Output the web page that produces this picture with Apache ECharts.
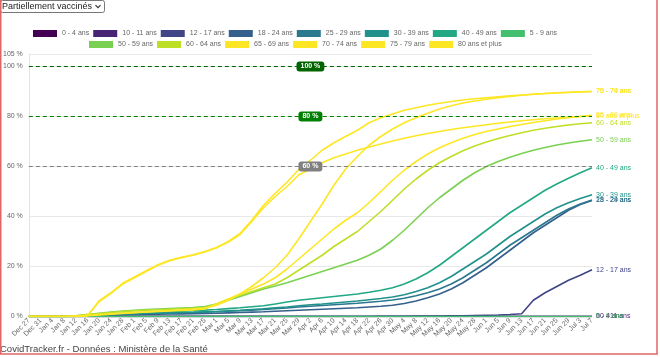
<!DOCTYPE html>
<html>
<head>
<meta charset="utf-8">
<script src="https://cdn.jsdelivr.net/npm/echarts@6/dist/echarts.min.js"></script>
<style>
html,body{margin:0;padding:0;background:#fff;}
#chart{width:660px;height:357px;}
</style>
</head>
<body>
<div id="chart"></div>
<script>
const dates = ['Dec 27','Dec 31','Jan 4','Jan 8','Jan 12','Jan 16','Jan 20','Jan 24','Jan 28','Feb 1','Feb 5','Feb 9','Feb 13','Feb 17','Feb 21','Feb 25','Mar 1','Mar 5','Mar 9','Mar 13','Mar 17','Mar 21','Mar 25','Mar 29','Apr 2','Apr 6','Apr 10','Apr 14','Apr 18','Apr 22','Apr 26','Apr 30','May 4','May 8','May 12','May 16','May 20','May 24','May 28','Jun 1','Jun 5','Jun 9','Jun 13','Jun 17','Jun 21','Jun 25','Jun 29','Jul 3','Jul 7'];

const a0004 = [0,0,0,0,0,0,0,0,0,0, 0,0,0,0,0,0,0,0,0,0, 0,0,0,0,0,0,0,0,0,0, 0,0,0,0,0,0,0,0,0,0, 0,0,0,0,0,0,0,0,0];
const a1011 = [0,0,0,0,0,0,0,0,0,0, 0,0,0,0,0,0,0,0,0,0, 0,0,0,0,0,0,0,0,0,0, 0,0,0,0,0,0,0,0,0,0, 0,0,0,0,0,0,0,0,0];
const a1217 = [0,0,0,0,0,0,0,0,0,0, 0,0,0,0,0,0,0,0,0,0, 0,0,0,0,0,0,0,0,0,0, 0.1,0.1,0.1,0.2,0.2,0.2,0.3,0.3,0.4,0.5, 0.6,0.8,1.1,6.5,9.5,12,14.5,16.5,18.7];
const a1824 = [0,0,0,0,0.05,0.2,0.3,0.45,0.6,0.7, 0.8,0.9,1.0,1.05,1.1,1.2,1.3,1.45,1.6,1.75, 1.9,2.1,2.3,2.5,2.7,2.9,3.1,3.3,3.5,3.8, 4.1,4.5,5.2,6.2,7.5,9,11,13.5,16.5,19.5, 23,26.5,30,33.5,36.5,39.5,42.5,44.8,46.4];
const a2529 = [0,0,0,0,0.1,0.3,0.5,0.7,0.9,1.05, 1.2,1.3,1.4,1.5,1.6,1.75,1.9,2.1,2.3,2.55, 2.8,3.1,3.4,3.8,4.1,4.4,4.7,5.0,5.3,5.7, 6.1,6.6,7.3,8.3,9.5,11,13,15.5,18.5,21.5, 25,28.5,31.5,34.5,37.5,40.5,43,45,46.6];
const a3039 = [0,0,0,0,0.1,0.35,0.6,0.8,1.0,1.15, 1.3,1.4,1.5,1.6,1.7,1.85,2.0,2.25,2.5,2.8, 3.1,3.45,3.8,4.3,4.7,5.0,5.4,5.8,6.2,6.7, 7.2,7.8,8.7,10,11.5,13.5,16,19,22,25, 28.5,32,35,38,41,43.5,45.5,47.2,48.7];
const a4049 = [0,0,0,0,0.2,0.5,0.8,1.05,1.3,1.5, 1.7,1.85,2.0,2.15,2.3,2.55,2.8,3.15,3.5,3.9, 4.3,5.0,5.8,6.5,7.0,7.5,8.0,8.5,9.0,9.7, 10.5,11.5,13,15,17.5,20.5,24,27.5,31,34.5, 38,41.5,44.5,47.5,50.5,53,55.3,57.5,59.5];
const a0509 = [0,0,0,0,0,0,0,0,0,0, 0,0,0,0,0,0,0,0,0,0, 0,0,0,0,0,0,0,0,0,0, 0,0,0,0,0,0,0,0,0,0, 0,0,0,0,0,0,0,0,0];
const a5059 = [0,0,0,0,0.3,0.8,1.3,1.8,2.2,2.5, 2.8,3.0,3.2,3.4,3.6,4.0,5.0,6.5,8,9.5, 11,12.2,13.5,15,16.5,18,19.5,21,22.5,24.5, 27,30.5,34.5,39,43.5,47.5,51,54.5,57.5,60, 62,63.7,65.2,66.5,67.6,68.6,69.4,70.1,70.7];
const a6064 = [0,0,0,0,0.3,0.75,1.2,1.6,2.0,2.25, 2.5,2.7,2.9,3.1,3.3,3.6,5,7,8.5,10, 11.5,13,15.5,18.5,21.5,24.5,28,31,34,38, 42,46.5,51,55,58.5,61.5,64,66.3,68.2,69.8, 71.2,72.4,73.5,74.5,75.3,76,76.6,77.1,77.5];
const a6569 = [0,0,0,0,0.2,0.5,0.8,1.1,1.4,1.6, 1.8,2.0,2.2,2.4,2.6,3.0,5,7,9,11, 13,15.5,19,23,27,31,35,38.5,41.5,45.5, 50,54.5,58.5,62,65,67.5,69.5,71.3,72.8,74, 75,76,76.8,77.6,78.3,79,79.5,80,80.5];
const a7074 = [0,0,0,0,0.1,0.3,0.6,0.9,1.2,1.5, 1.8,2.1,2.4,2.7,3.0,3.4,4.5,6.5,9,12, 15.5,19.5,24.5,31,38,45,52.5,59,64,68.5, 72,75,77.5,79.5,81.3,83,84.3,85.4,86.2,86.9, 87.5,88,88.5,88.9,89.2,89.5,89.7,89.9,90];
const a7579 = [0,0,0,0,0,0.3,6,9.3,13,15.5, 18,20.5,22.3,23.5,24.5,25.8,27.5,30,33.2,38.5, 44.5,49.3,53.7,58.8,62.5,66.5,69.5,72,74.5,77.5, 79.5,81,82.5,83.5,84.5,85.3,86,86.6,87.1,87.5, 87.9,88.3,88.6,88.9,89.2,89.4,89.6,89.8,90];
const a80p = [0,0,0,0,0,0.3,6.3,9.5,13.3,15.8, 18.3,20.7,22.5,23.7,24.7,26,27.6,29.8,32.8,38, 43.5,48,52,56.6,59,61.5,63.5,65,66.5,67.8, 69,70.2,71.3,72.3,73.2,74,74.8,75.5,76.1,76.7, 77.3,77.8,78.3,78.7,79.1,79.4,79.7,80,80.2];

const seriesNames = ['0 - 4 ans','10 - 11 ans','12 - 17 ans','18 - 24 ans','25 - 29 ans','30 - 39 ans','40 - 49 ans','5 - 9 ans','50 - 59 ans','60 - 64 ans','65 - 69 ans','70 - 74 ans','75 - 79 ans','80 ans et plus'];
const seriesData = [a0004,a1011,a1217,a1824,a2529,a3039,a4049,a0509,a5059,a6064,a6569,a7074,a7579,a80p];
const seriesColors = ['#440154','#482475','#414487','#355f8d','#2a788e','#21918c','#22a884','#44bf70','#7ad151','#bddf26','#fde725','#fde725','#fde725','#fde725'];
const refLines = [100,80,60];
const refColors = ['#006400','#008000','#808080'];

const FONT = 'Liberation Sans, Arial, sans-serif';
const chart = echarts.init(document.getElementById('chart'), null, {renderer:'canvas'});

const series = seriesNames.map((n,k)=>({
  name:n, type:'line', data:seriesData[k], symbol:'none', showSymbol:false,
  color:seriesColors[k],
  lineStyle:{width:1.6, color:seriesColors[k]},
  endLabel:{show:true, formatter:'{a}', color:seriesColors[k], fontSize:7, fontFamily:FONT, distance:4},
  emphasis:{disabled:true},
  z: 2 + k
}));
series[series.length-1].markLine = {
  silent:true, symbol:['none','none'], animation:false, z:30,
  data: refLines.map((v,j)=>({
    yAxis:v,
    lineStyle:{type:[4,3], color:refColors[j], width:1},
    label:{show:true, position:'middle', formatter: v + ' %', color:'#fff', fontWeight:'bold', fontSize:7, fontFamily:FONT,
      backgroundColor:refColors[j], borderRadius:3, padding:[2,4,1,4], distance:0, verticalAlign:'middle'}
  }))
};

const legendCommon = {icon:'rect', itemWidth:24, itemHeight:7, itemGap:4, padding:0,
  textStyle:{fontSize:7, color:'#666', fontFamily:FONT}, selectedMode:false};

chart.setOption({
  animation:false,
  textStyle:{fontFamily:FONT},
  grid:{left:27, right:68, top:54, bottom:40.5, containLabel:false},
  legend:[
    Object.assign({data:seriesNames.slice(0,8), left:33, top:30}, legendCommon),
    Object.assign({data:seriesNames.slice(8), left:89, top:41}, legendCommon)
  ],
  xAxis:{type:'category', data:dates, boundaryGap:false,
    axisLine:{show:false}, axisTick:{show:false},
    axisLabel:{rotate:45, fontSize:7, color:'#666', margin:3, interval:0, fontFamily:FONT},
    splitLine:{show:false}},
  yAxis:{type:'value', min:0, max:105, interval:20,
    axisLine:{show:true, lineStyle:{color:'#e3e3e3'}}, axisTick:{show:false},
    axisLabel:{fontSize:7, color:'#666', margin:6, fontFamily:FONT, formatter:'{value} %'},
    splitLine:{show:true, lineStyle:{color:'#e8e8e8', width:1}}},
  series: series,
  graphic:[
    {type:'rect', shape:{x:0.5,y:0.5,width:104,height:12,r:2}, style:{fill:'#fff', stroke:'#767676', lineWidth:1}},
    {type:'text', x:2, y:7, style:{text:'Partiellement vaccinés', font:'9px '+FONT, fill:'#222', verticalAlign:'middle'}},
    {type:'polyline', shape:{points:[[95.5,5.2],[98,7.7],[100.5,5.2]]}, style:{stroke:'#333', lineWidth:1.2, fill:null}},
    {type:'text', x:0, y:349, style:{text:'CovidTracker.fr - Données : Ministère de la Santé', font:'9.5px '+FONT, fill:'#444', verticalAlign:'middle'}},
    {type:'line', shape:{x1:0.75,y1:0,x2:0.75,y2:354}, style:{stroke:'#e06666', lineWidth:1.5}},
    {type:'line', shape:{x1:657,y1:0,x2:657,y2:354}, style:{stroke:'#e06666', lineWidth:1.5}},
    {type:'line', shape:{x1:0,y1:354,x2:657.75,y2:354}, style:{stroke:'#e06666', lineWidth:1.5}}
  ]
});
</script>
</body>
</html>
